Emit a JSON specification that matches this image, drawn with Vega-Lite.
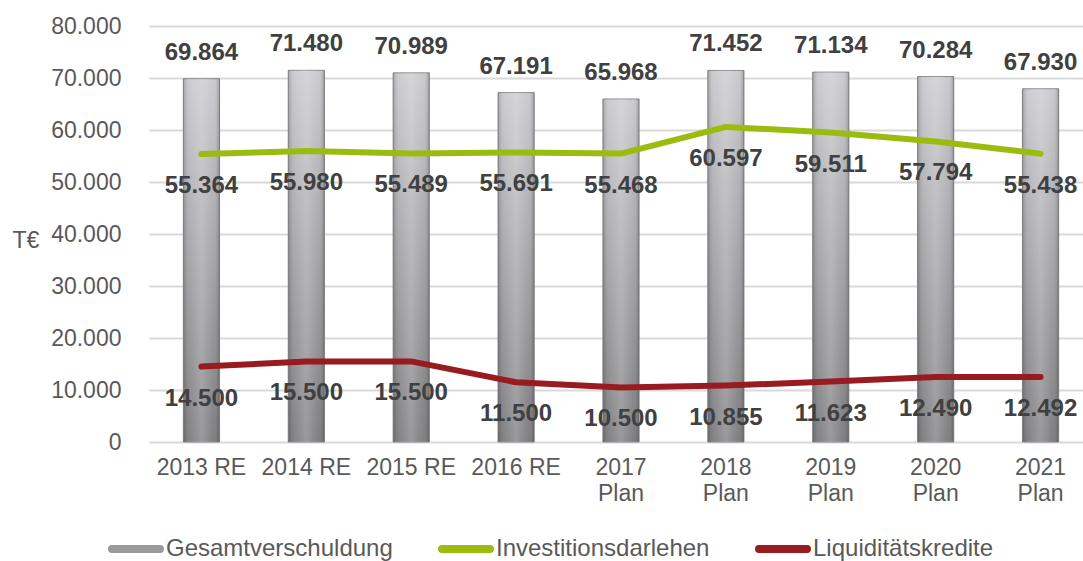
{
  "$schema": "https://vega.github.io/schema/vega-lite/v6.json",
  "width": 944,
  "height": 416,
  "autosize": {"type": "none"},
  "padding": {"left": 149, "top": 26, "right": 0, "bottom": 119},
  "background": "white",
  "config": {
    "locale": {"number": {"decimal": ",", "thousands": ".", "grouping": [3], "currency": ["", " €"]}},
    "font": "Liberation Sans",
    "view": {"stroke": null},
    "axisY": {
      "labelFontSize": 23, "labelColor": "#595959", "labelPadding": 28,
      "ticks": false, "domain": false, "gridColor": "#d9d9d9", "gridWidth": 2,
      "values": [0, 10000, 20000, 30000, 40000, 50000, 60000, 70000, 80000],
      "format": ",.0f",
      "titleAngle": 0, "titleX": -137, "titleY": 214, "titleAlign": "left", "titleBaseline": "middle",
      "titleFontSize": 23, "titleFontWeight": "normal", "titleColor": "#595959"
    },
    "axisX": {
      "labelAngle": 0, "labelFontSize": 23, "labelColor": "#595959", "ticks": false, "domain": false,
      "labelPadding": 14, "labelLineHeight": 26, "grid": false
    }
  },
  "data": {"values": [
    {"jahr": "2013 RE", "Gesamtverschuldung": 69864, "Investitionsdarlehen": 55364, "Liquiditätskredite": 14500},
    {"jahr": "2014 RE", "Gesamtverschuldung": 71480, "Investitionsdarlehen": 55980, "Liquiditätskredite": 15500},
    {"jahr": "2015 RE", "Gesamtverschuldung": 70989, "Investitionsdarlehen": 55489, "Liquiditätskredite": 15500},
    {"jahr": "2016 RE", "Gesamtverschuldung": 67191, "Investitionsdarlehen": 55691, "Liquiditätskredite": 11500},
    {"jahr": "2017 Plan", "Gesamtverschuldung": 65968, "Investitionsdarlehen": 55468, "Liquiditätskredite": 10500},
    {"jahr": "2018 Plan", "Gesamtverschuldung": 71452, "Investitionsdarlehen": 60597, "Liquiditätskredite": 10855},
    {"jahr": "2019 Plan", "Gesamtverschuldung": 71134, "Investitionsdarlehen": 59511, "Liquiditätskredite": 11623},
    {"jahr": "2020 Plan", "Gesamtverschuldung": 70284, "Investitionsdarlehen": 57794, "Liquiditätskredite": 12490},
    {"jahr": "2021 Plan", "Gesamtverschuldung": 67930, "Investitionsdarlehen": 55438, "Liquiditätskredite": 12492}
  ]},
  "encoding": {
    "x": {
      "field": "jahr", "type": "nominal", "sort": null,
      "scale": {"paddingInner": 0.655, "paddingOuter": 0.3275},
      "axis": {"title": null, "labelExpr": "indexof(datum.label, 'Plan') >= 0 ? split(datum.label, ' ') : datum.label"}
    }
  },
  "layer": [
    {
      "mark": {
        "type": "bar",
        "fill": {"gradient": "linear", "x1": 0, "y1": 0, "x2": 0, "y2": 1,
          "stops": [{"offset": 0, "color": "#c8c8cc"}, {"offset": 1, "color": "#78787b"}]},
        "stroke": "#8a8a8c", "strokeWidth": 1
      },
      "encoding": {
        "y": {"field": "Gesamtverschuldung", "type": "quantitative", "title": "T€", "scale": {"domain": [0, 80000]}}
      }
    },
    {
      "mark": {
        "type": "bar",
        "fill": {"gradient": "linear", "x1": 0, "y1": 0, "x2": 1, "y2": 0,
          "stops": [
            {"offset": 0, "color": "rgba(0,0,0,0.18)"},
            {"offset": 0.15, "color": "rgba(255,255,255,0.08)"},
            {"offset": 0.5, "color": "rgba(255,255,255,0.25)"},
            {"offset": 0.85, "color": "rgba(255,255,255,0.05)"},
            {"offset": 1, "color": "rgba(0,0,0,0.22)"}
          ]}
      },
      "encoding": {
        "y": {"field": "Gesamtverschuldung", "type": "quantitative", "title": "T€"}
      }
    },
    {
      "mark": {"type": "text", "dy": -26, "fontSize": 24, "fontWeight": "bold", "color": "#404040", "baseline": "middle"},
      "encoding": {
        "y": {"field": "Gesamtverschuldung", "type": "quantitative", "title": "T€"},
        "text": {"field": "Gesamtverschuldung", "type": "quantitative", "format": ",.0f"}
      }
    },
    {
      "transform": [{"fold": ["Investitionsdarlehen", "Liquiditätskredite"], "as": ["reihe", "wert"]}],
      "layer": [
        {
          "mark": {"type": "line", "strokeWidth": 6, "strokeCap": "round", "strokeJoin": "round"},
          "encoding": {
            "y": {"field": "wert", "type": "quantitative", "title": "T€"},
            "color": {
              "field": "reihe", "type": "nominal",
              "scale": {"domain": ["Gesamtverschuldung", "Investitionsdarlehen", "Liquiditätskredite"],
                        "range": ["#9a9a9e", "#9bbb0f", "#981b1f"]},
              "legend": {
                "orient": "none", "legendX": -41, "legendY": 495, "direction": "horizontal", "title": null,
                "labelFontSize": 24, "labelColor": "#595959", "labelLimit": 0, "labelBaseline": "middle",
                "symbolType": "stroke", "symbolStrokeWidth": 8,
                "symbolSize": 2300, "columnPadding": 33, "labelOffset": 2,
                "encode": {"symbols": {"update": {"strokeCap": {"value": "round"}}}}
              }
            }
          }
        },
        {
          "mark": {"type": "text", "dy": 32, "fontSize": 24, "fontWeight": "bold", "color": "#404040", "baseline": "middle"},
          "encoding": {
            "y": {"field": "wert", "type": "quantitative", "title": "T€"},
            "text": {"field": "wert", "type": "quantitative", "format": ",.0f"}
          }
        }
      ]
    }
  ]
}
